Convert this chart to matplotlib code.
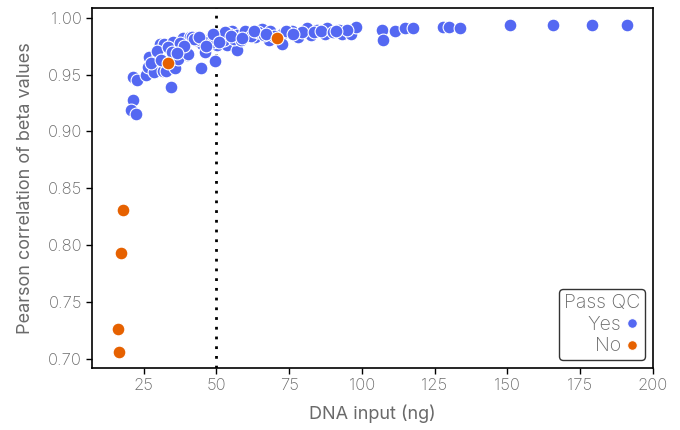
import matplotlib
matplotlib.use("Agg")
import matplotlib.pyplot as plt
from matplotlib.lines import Line2D

plt.rcParams['font.family'] = ['Inter', 'DejaVu Sans']
plt.rcParams['font.weight'] = 'light'

# Pass QC = Yes
yes_x = [21.3, 22.9, 21.5, 20.6, 22.4, 25.9, 26.7, 26.9, 28.7, 30.7, 30.1, 31.8, 32.8,
         32.2, 34.3, 36.4, 35.9, 35.1, 38.5, 39.9, 41.0, 37.0, 38.7, 41.6, 40.4, 45.1,
         44.7, 46.2, 48.3, 49.7, 50.2, 51.9, 53.7, 55.4, 57.1, 57.1, 59.4, 61.1, 63.4,
         65.8, 68.0, 68.6, 72.6, 72.6, 76.1, 78.2, 81.3, 82.4, 84.7, 87.4, 88.2, 92.2,
         93.1, 96.2, 97.9, 107.1, 107.4, 111.5, 115.0, 117.5, 127.8, 129.9, 133.9,
         150.8, 165.8, 179.0, 191.0,
         29.5, 33.5, 37.5, 43.0, 47.0, 50.5, 52.5, 54.5, 56.0, 58.5, 60.0, 62.0, 64.5,
         66.5, 70.0, 74.0, 79.5, 83.5, 86.0, 90.0, 95.0, 27.5, 34.8, 42.5, 48.8, 53.0,
         44.0, 46.5, 49.0, 51.0, 55.0, 59.0, 63.0, 67.0, 39.0, 31.0, 36.5, 76.5, 91.0]
yes_y = [0.948, 0.945, 0.928, 0.919, 0.915, 0.950, 0.957, 0.965, 0.952, 0.977, 0.967, 0.953, 0.953,
         0.977, 0.939, 0.976, 0.956, 0.979, 0.982, 0.967, 0.983, 0.964, 0.972, 0.983, 0.968, 0.977,
         0.956, 0.970, 0.982, 0.962, 0.976, 0.983, 0.976, 0.988, 0.985, 0.972, 0.985, 0.986, 0.983,
         0.990, 0.980, 0.988, 0.986, 0.977, 0.988, 0.983, 0.991, 0.985, 0.989, 0.986, 0.991, 0.989,
         0.986, 0.986, 0.992, 0.989, 0.980, 0.988, 0.991, 0.991, 0.992, 0.992, 0.991,
         0.994, 0.994, 0.994, 0.994,
         0.971, 0.974, 0.978, 0.980, 0.979, 0.985, 0.980, 0.986, 0.981, 0.980, 0.988, 0.984, 0.987,
         0.985, 0.984, 0.988, 0.987, 0.987, 0.988, 0.987, 0.989, 0.960, 0.970, 0.981, 0.979, 0.987,
         0.983, 0.975, 0.986, 0.979, 0.984, 0.982, 0.988, 0.986, 0.975, 0.963, 0.969, 0.986, 0.988]

# Pass QC = No
no_x = [17.9, 17.2, 16.2, 16.6, 33.4, 71.0]
no_y = [0.831, 0.793, 0.726, 0.706, 0.9605, 0.9825]

blue = '#5468F2'
orange = '#E66100'
grey = '#6a6a6a'

fig = plt.figure(figsize=(6.8, 4.3), dpi=100)
ax = fig.add_axes([0.136, 0.144, 0.824, 0.837])

ax.scatter(yes_x, yes_y, s=85, c=blue, edgecolors='white', linewidths=0.8, zorder=3)
ax.scatter(no_x, no_y, s=85, c=orange, edgecolors='white', linewidths=0.8, zorder=3)
ax.axvline(50, color='black', linestyle=(0, (1, 2.5)), linewidth=2, zorder=2)

ax.set_xticks([25, 50, 75, 100, 125, 150, 175, 200])
ax.set_yticks([0.70, 0.75, 0.80, 0.85, 0.90, 0.95, 1.00])
ax.set_yticklabels(['0.70', '0.75', '0.80', '0.85', '0.90', '0.95', '1.00'])
ax.tick_params(labelsize=12, labelcolor=grey, length=4, width=1, color='black')
ax.set_xlabel('DNA input (ng)', fontsize=13, color=grey, labelpad=8)
ax.set_ylabel('Pearson correlation of beta values', fontsize=13, color=grey, labelpad=10)
for sp in ax.spines.values():
    sp.set_linewidth(1.2)
    sp.set_color('black')

handles = [Line2D([], [], marker='o', linestyle='', markersize=7, markerfacecolor=blue,
                  markeredgecolor='white', markeredgewidth=0.8),
           Line2D([], [], marker='o', linestyle='', markersize=7, markerfacecolor=orange,
                  markeredgecolor='white', markeredgewidth=0.8)]
leg = ax.legend(handles, ['Yes', 'No'], title='Pass QC', loc='lower right',
                markerfirst=False, fontsize=14, title_fontsize=14, frameon=True,
                fancybox=True, edgecolor='#333333', framealpha=1,
                handletextpad=0.2, handlelength=0.8, borderpad=0.25, labelspacing=0.2,
                borderaxespad=0.4, alignment='right')
leg.get_title().set_color(grey)
for t in leg.get_texts():
    t.set_color(grey)
leg.get_frame().set_linewidth(1.0)

fig.savefig('out.png', dpi=100)
